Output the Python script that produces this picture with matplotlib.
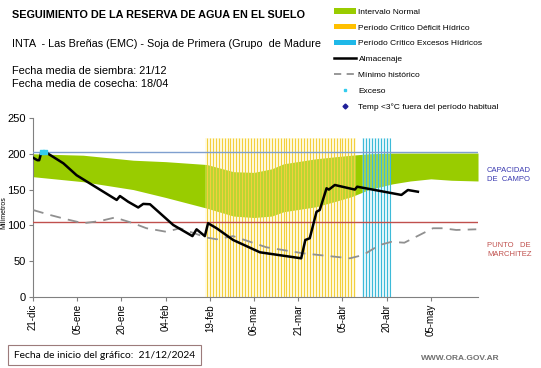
import matplotlib.pyplot as plt
from matplotlib.lines import Line2D
from matplotlib.patches import Patch
import numpy as np

# x axis: days since 21/12/2024
tick_days = [0, 15, 30, 45, 60, 75, 90, 105, 120, 135]
tick_labels = ["21-dic", "05-ene", "20-ene", "04-feb", "19-feb",
               "06-mar", "21-mar", "05-abr", "20-abr", "05-may"]

# Intervalo normal (green band)
band_days = [0, 17, 34, 45, 59, 68, 75, 81, 85, 96, 103, 108, 114, 122, 128, 135, 142, 151]
band_upper = [200, 198, 191, 189, 185, 175, 174, 179, 186, 193, 196, 198, 200, 201, 201, 201, 201, 201]
band_lower = [168, 161, 150, 139, 124, 113, 111, 113, 119, 126, 134, 140, 150, 158, 162, 165, 163, 162]

# Almacenaje
alm_days = [0, 1.5, 2.1, 2.9, 4, 10.3, 14.8, 28.4, 29.5, 32.3, 35.7, 37.4, 39.7,
            47.6, 54.1, 55.5, 58.3, 59.4, 62.3, 67.9, 77, 91, 92.4, 93.9, 96.2,
            97.3, 99.6, 100.4, 102.4, 109.2, 110, 114.2, 125, 127.2, 130.6]
alm_vals = [194.5, 191, 191, 203, 203, 186.7, 170, 135.5, 141, 133, 125, 130, 129.5,
            100.5, 85, 94.5, 85, 103, 96, 79.6, 62.4, 54, 79.6, 82, 119,
            121.5, 151.8, 150, 156.4, 150, 154, 150.8, 142.5, 149.4, 147]

# Minimo historico
min_days = [0, 5.8, 11.4, 17, 22.7, 27.8, 34, 38.5, 45.3, 49.8, 58.9, 62.3, 67.9,
            79.2, 91.6, 107.5, 112, 117.6, 121.6, 126, 135.7, 139, 143.6, 150.4]
min_vals = [121.5, 114.5, 108.5, 103, 106, 111, 103, 96, 91, 96, 83, 80.6, 85,
            69.4, 61, 54, 58.6, 72.6, 77, 75.8, 96, 96, 93.6, 94.5]

# Periodos criticos (daily bars)
deficit_days = list(range(59, 110))
exceso_period_days = list(range(112, 122))
bar_height = 222

# Exceso markers
exceso_days = [3, 4]
exceso_vals = [203, 203]

capacidad_campo = 202
punto_marchitez = 105

fig = plt.figure(figsize=(5.41, 3.68), dpi=100)
plt.rcParams['font.family'] = ['Liberation Sans', 'DejaVu Sans']
ax = fig.add_axes([0.061, 0.193, 0.8226, 0.4864])

ax.fill_between(band_days, band_lower, band_upper, color='#99CC00', linewidth=0, zorder=1)
# pale background of the critical periods, then one line per day
ax.bar(deficit_days, [bar_height] * len(deficit_days), width=1.0,
       color=(1.0, 0.95, 0.65, 0.3), linewidth=0, zorder=2)
ax.vlines(deficit_days, 0, bar_height, color='#F3CF3C', lw=0.8, zorder=2)
ax.bar(exceso_period_days, [bar_height] * len(exceso_period_days), width=1.0,
       color=(0.75, 0.93, 0.97, 0.3), linewidth=0, zorder=2)
ax.vlines(exceso_period_days, 0, bar_height, color='#3DBAD8', lw=0.8, zorder=2)

ax.axhline(capacidad_campo, color='#7F9FCF', lw=1.0, zorder=3)
ax.axhline(punto_marchitez, color='#C0504D', lw=1.0, zorder=3)

ax.plot(min_days, min_vals, color='#909090', lw=1.3, dashes=(6, 4), zorder=4)
ax.plot(alm_days, alm_vals, color='black', lw=1.8, zorder=5)
ax.scatter(exceso_days, exceso_vals, marker='s', s=5, color='#33CCEE', zorder=6)

ax.set_xlim(0, 151)
ax.set_ylim(0, 250)
ax.set_yticks([0, 50, 100, 150, 200, 250])
ax.tick_params(axis='y', labelsize=8, length=3, color='#808080', pad=2)
ax.set_xticks(tick_days)
ax.set_xticklabels(tick_labels, rotation=90, fontsize=7)
ax.tick_params(axis='x', length=3, color='#808080', pad=2)
for s in ['top', 'right']:
    ax.spines[s].set_visible(False)
for s in ['left', 'bottom']:
    ax.spines[s].set_color('#808080')
ax.set_ylabel('Milímetros', fontsize=5)
ax.yaxis.set_label_coords(-0.058, 0.47)

# header texts
fig.text(12 / 541, 1 - 15 / 368, 'SEGUIMIENTO DE LA RESERVA DE AGUA EN EL SUELO',
         fontsize=7.8, fontweight='bold', va='center')
fig.text(12 / 541, 1 - 44 / 368, 'INTA  - Las Breñas (EMC) - Soja de Primera (Grupo  de Madure',
         fontsize=7.8, va='center')
fig.text(12 / 541, 1 - 71 / 368, 'Fecha media de siembra: 21/12', fontsize=7.9, va='center')
fig.text(12 / 541, 1 - 84 / 368, 'Fecha media de cosecha: 18/04', fontsize=7.9, va='center')

# right side labels
fig.text(487 / 541, 1 - 175 / 368, 'CAPACIDAD\nDE  CAMPO', fontsize=5.5, color='#3A3AB0',
         va='center', linespacing=1.3)
fig.text(487 / 541, 1 - 250 / 368, 'PUNTO   DE\nMARCHITEZ', fontsize=5.5, color='#C0504D',
         va='center', linespacing=1.3)

# legend
handles = [
    Patch(facecolor='#99CC00', edgecolor='none'),
    Patch(facecolor='#FFC000', edgecolor='none'),
    Patch(facecolor='#1FB8E8', edgecolor='none'),
    Line2D([], [], color='black', lw=1.8),
    Line2D([], [], color='#909090', lw=1.3, dashes=(4, 3)),
    Line2D([], [], color='#33CCEE', marker='s', ms=2, lw=0),
    Line2D([], [], color='#1F1F99', marker='D', ms=2.5, lw=0),
]
labels = ['Intervalo Normal', 'Período Crítico Déficit Hídrico',
          'Período Crítico Excesos Hídricos', 'Almacenaje', 'Mínimo histórico',
          'Exceso', 'Temp <3°C fuera del período habitual']
fig.legend(handles, labels, loc='upper left', bbox_to_anchor=(331 / 541, 1 - 5 / 368),
           frameon=False, fontsize=6, handlelength=2.6, handleheight=0.6,
           labelspacing=0.98, handletextpad=0.3, borderaxespad=0)

# footer
fig.text(14 / 541, 1 - 355 / 368, 'Fecha de inicio del gráfico:  21/12/2024', fontsize=7.4,
         family=['Lato', 'DejaVu Sans'], va='center',
         bbox=dict(boxstyle='square,pad=0.55', facecolor='white', edgecolor='#9C7B7B', lw=0.8))
fig.text(500 / 541, 1 - 358 / 368, 'WWW.ORA.GOV.AR', fontsize=6, color='#707070',
         ha='right', va='center', fontweight='bold')

fig.savefig('out.png', dpi=100)
